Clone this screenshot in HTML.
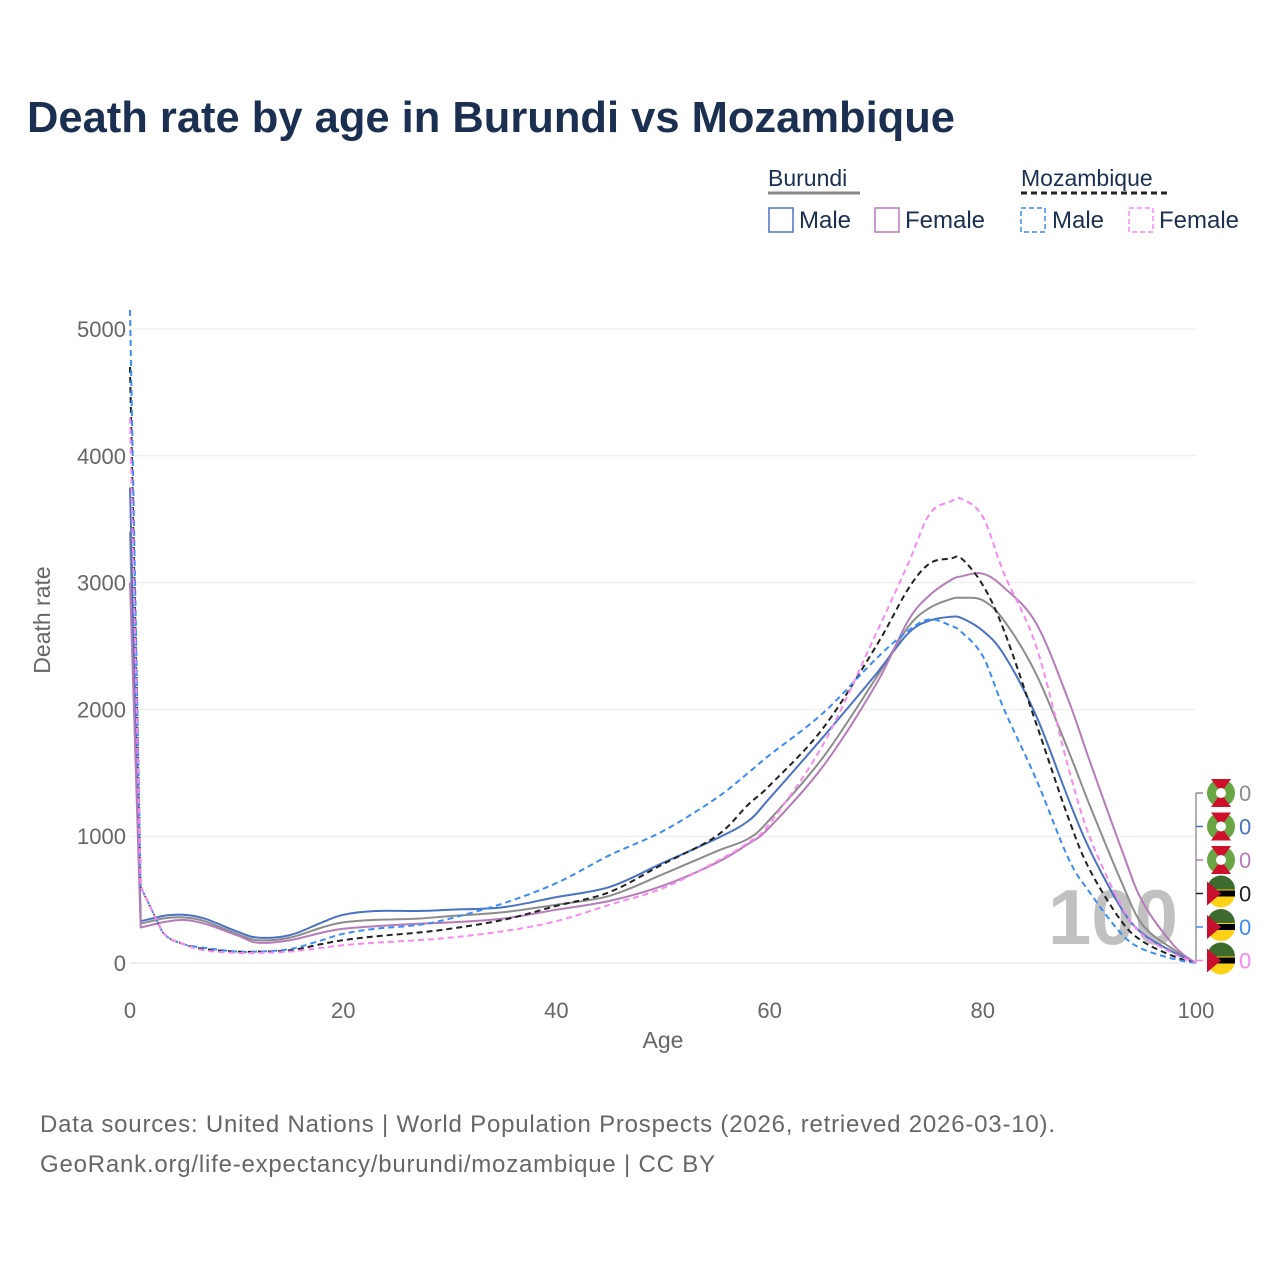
<!DOCTYPE html>
<html><head><meta charset="utf-8"><style>
body{margin:0;background:#fff;font-family:"Liberation Sans",sans-serif}
svg{display:block}
</style></head><body>
<svg id="chart" width="1280" height="1280" xmlns="http://www.w3.org/2000/svg" font-family="Liberation Sans, sans-serif">
<text x="27" y="132" font-size="43.5" font-weight="bold" fill="#1b3050" textLength="928">Death rate by age in Burundi vs Mozambique</text>
<g>
<text x="768" y="186" font-size="23" fill="#1b3050">Burundi</text>
<line x1="768" y1="193" x2="860" y2="193" stroke="#888" stroke-width="3"/>
<rect x="769" y="208" width="24" height="24" fill="none" stroke="#4a72c4" stroke-width="1.5"/>
<text x="799" y="228" font-size="24" fill="#1b3050">Male</text>
<rect x="875" y="208" width="24" height="24" fill="none" stroke="#b57cb8" stroke-width="1.5"/>
<text x="905" y="228" font-size="24" fill="#1b3050">Female</text>
<text x="1021" y="186" font-size="23" fill="#1b3050">Mozambique</text>
<line x1="1021" y1="193" x2="1170" y2="193" stroke="#222" stroke-width="3" stroke-dasharray="6,4"/>
<rect x="1021" y="208" width="24" height="24" fill="none" stroke="#3b8cf5" stroke-width="1.5" stroke-dasharray="5,3"/>
<text x="1052" y="228" font-size="24" fill="#1b3050">Male</text>
<rect x="1129" y="208" width="24" height="24" fill="none" stroke="#f78af0" stroke-width="1.5" stroke-dasharray="5,3"/>
<text x="1159" y="228" font-size="24" fill="#1b3050">Female</text>
</g>
<g id="grid"></g>
<text x="1113" y="944" font-size="78" font-weight="bold" fill="#bbb" text-anchor="middle" opacity="0.9">100</text>
<g id="series"></g>
<g id="axes"></g>
<text transform="translate(50,620) rotate(-90)" font-size="23" fill="#666" text-anchor="middle">Death rate</text>
<text x="663" y="1048" font-size="23" fill="#666" text-anchor="middle">Age</text>
<g id="endlabels"></g>
<text x="40" y="1132" font-size="24" fill="#666" textLength="1015">Data sources: United Nations | World Population Prospects (2026, retrieved 2026-03-10).</text>
<text x="40" y="1172" font-size="24" fill="#666" textLength="675">GeoRank.org/life-expectancy/burundi/mozambique | CC BY</text>
</svg>
<script>
const ages=[0,1,3,5,7,10,12,15,18,20,23,27,30,35,40,45,50,55,58,60,65,70,73,75,77,78,80,82,85,88,90,93,95,98,100];
const burundiMale=[3750,330,370,380,350,250,200,220,320,380,410,410,420,440,520,600,790,980,1120,1300,1780,2280,2600,2700,2730,2720,2620,2430,1950,1300,900,430,230,80,0];
const burundiTotal=[3400,310,350,360,330,230,180,200,280,320,340,350,370,400,460,530,700,880,980,1130,1620,2250,2650,2800,2870,2880,2860,2700,2280,1680,1250,640,300,100,0];
const burundiFemale=[3000,280,320,340,310,220,160,180,240,270,290,310,320,350,420,490,610,790,940,1070,1550,2200,2700,2900,3020,3050,3070,2960,2680,2080,1600,900,480,130,0];
const mozMale=[5150,600,250,150,120,90,90,110,180,230,270,300,350,470,630,850,1040,1300,1500,1640,1970,2400,2620,2710,2660,2610,2420,2000,1450,830,560,230,110,30,0];
const mozTotal=[4700,600,250,150,110,90,90,100,150,180,210,240,270,340,450,560,780,1000,1250,1400,1850,2500,2950,3150,3190,3190,2980,2620,1890,1150,740,330,170,50,0];
const mozFemale=[4300,600,250,150,100,80,80,90,120,140,160,180,200,250,330,460,590,800,950,1100,1720,2600,3150,3540,3640,3660,3520,3070,2500,1550,1000,450,220,70,0];
const yTicks=[0,1000,2000,3000,4000,5000];
const xTicks=[0,20,40,60,80,100];
const NS="http://www.w3.org/2000/svg";
const xS=a=>130+a*10.66;
const yS=v=>963-v*0.1268;
function mk(t,p,at){const e=document.createElementNS(NS,t);for(const k in at)e.setAttribute(k,at[k]);p.appendChild(e);return e;}
const grid=document.getElementById('grid'),axes=document.getElementById('axes');
yTicks.forEach(v=>{
 const l=mk('line',grid,{x1:130,x2:1196,y1:yS(v),y2:yS(v),stroke:v===0?'#ddd':'#ebebeb','stroke-width':1});
 
 
 const t=mk('text',axes,{x:126,y:yS(v)+8,'font-size':22,fill:'#666','text-anchor':'end'});
 t.textContent=v;
 
 
});
xTicks.forEach(v=>{
 const t=mk('text',axes,{x:xS(v),y:1018,'font-size':22,fill:'#666','text-anchor':'middle'});
 t.textContent=v;
 
 
});
const series=[
 {n:'burundi-total',d:burundiTotal,c:'#8c8c8c',dash:''},
 {n:'burundi-male',d:burundiMale,c:'#4a72c4',dash:''},
 {n:'burundi-female',d:burundiFemale,c:'#b57cb8',dash:''},
 {n:'mozambique-total',d:mozTotal,c:'#222',dash:'6,4'},
 {n:'mozambique-male',d:mozMale,c:'#3b8cf5',dash:'6,4'},
 {n:'mozambique-female',d:mozFemale,c:'#f78af0',dash:'6,4'}
];
function smoothPath(P){
 let d='M'+P[0][0].toFixed(1)+','+P[0][1].toFixed(1);
 for(let i=0;i<P.length-1;i++){
  const p0=P[Math.max(i-1,0)],p1=P[i],p2=P[i+1],p3=P[Math.min(i+2,P.length-1)];
  if(i<2){d+='L'+p2[0].toFixed(1)+','+p2[1].toFixed(1);continue;}
  const c1=[p1[0]+(p2[0]-p0[0])/6,p1[1]+(p2[1]-p0[1])/6];
  const c2=[p2[0]-(p3[0]-p1[0])/6,p2[1]-(p3[1]-p1[1])/6];
  d+='C'+c1.map(v=>v.toFixed(1)).join(',')+' '+c2.map(v=>v.toFixed(1)).join(',')+' '+p2[0].toFixed(1)+','+p2[1].toFixed(1);
 }
 return d;
}
const sg=document.getElementById('series');
series.forEach(s=>{
 const P=ages.map((a,i)=>[xS(a),yS(s.d[i])]);
 const p=mk('path',sg,{d:smoothPath(P),fill:'none',stroke:s.c,'stroke-width':2,'stroke-dasharray':s.dash,'stroke-linejoin':'round'});
 
 
});
const el=document.getElementById('endlabels');
mk('line',el,{x1:1196,x2:1196,y1:793,y2:962,stroke:'#999','stroke-width':1.5});
series.forEach((s,i)=>{
 const y=793+i*33.5;
 mk('line',el,{x1:1196,x2:1203,y1:y,y2:y,stroke:s.c,'stroke-width':1.5});
 const g=mk('g',el,{});
 
 
 if(i<3){
  mk('circle',g,{cx:1221,cy:y,r:14,fill:'#6aa544'});
  mk('path',g,{d:`M${1221-10},${y-14}L${1221+10},${y-14}L1221,${y}Z M${1221-10},${y+14}L${1221+10},${y+14}L1221,${y}Z`,fill:'#d0102b'});
  mk('circle',g,{cx:1221,cy:y,r:5,fill:'#fff'});
 }else{
  mk('circle',g,{cx:1221,cy:y,r:14,fill:'#fcd116'});
  mk('path',g,{d:`M1207,${y-4}A14,14 0 0 1 1235,${y-4}Z`,fill:'#3d6b2e'});
  mk('rect',g,{x:1207,y:y-3,width:28,height:6,fill:'#000'});
  mk('path',g,{d:`M1207,${y-12}L1221,${y}L1207,${y+12}Z`,fill:'#c8102e'});
 }
 const t=mk('text',g,{x:1239,y:y+8,'font-size':22,fill:s.c});
 t.textContent='0';
});
</script>
</body></html>
